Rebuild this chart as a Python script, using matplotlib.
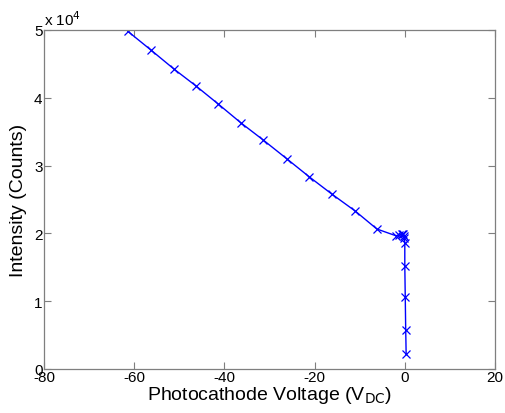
import numpy as np
import matplotlib
matplotlib.use("Agg")
import matplotlib.pyplot as plt
from matplotlib.ticker import FuncFormatter

# photocathode voltage (V) and intensity (counts)
voltage = [-61.4, -56.3, -51.2, -46.4, -41.4, -36.3, -31.4, -26.1, -21.2, -16.1,
           -11.0, -6.2, -2.0, -1.2, -0.7, -0.4, -0.2, -0.1, 0.0, 0.0, 0.1, 0.2, 0.3]
intensity = [49800, 47050, 44250, 41800, 39100, 36280, 33780, 30970, 28350, 25760,
             23300, 20650, 19660, 19750, 19950, 19850, 19650, 19280, 18580, 15240,
             10660, 5800, 2170]

xticks = [-80, -60, -40, -20, 0, 20]
yticks = [0, 10000, 20000, 30000, 40000, 50000]

plt.rcParams['font.family'] = ['Liberation Sans', 'DejaVu Sans']
plt.rcParams['axes.unicode_minus'] = False
frame = '#7f7f7f'

fig = plt.figure(figsize=(5.05, 4.14), dpi=100)
ax = fig.add_axes([44 / 505, 1 - 370 / 414, 451 / 505, 339 / 414])

ax.plot(voltage, intensity, '-x', color='#0000ff', lw=1.0, ms=5.5, mew=0.9)

ax.set_xlim(-80, 20)
ax.set_ylim(0, 50000)
ax.set_xticks(xticks)
ax.set_yticks(yticks)
ax.yaxis.set_major_formatter(FuncFormatter(lambda v, p: '%g' % (v / 1e4)))

ax.tick_params(direction='in', length=5, width=0.8, color=frame, labelsize=11,
               top=True, right=True, pad=1)
for s in ax.spines.values():
    s.set_color(frame)
    s.set_linewidth(0.9)

ax.text(0.0, 1.005, r'x 10$^4$', transform=ax.transAxes, fontsize=11,
        ha='left', va='bottom')

ax.set_xlabel('Photocathode Voltage (V$_{\\mathrm{DC}}$)', fontsize=14, labelpad=0)
ax.set_ylabel('Intensity (Counts)', fontsize=14, labelpad=5)

fig.savefig('out.png', dpi=100)
